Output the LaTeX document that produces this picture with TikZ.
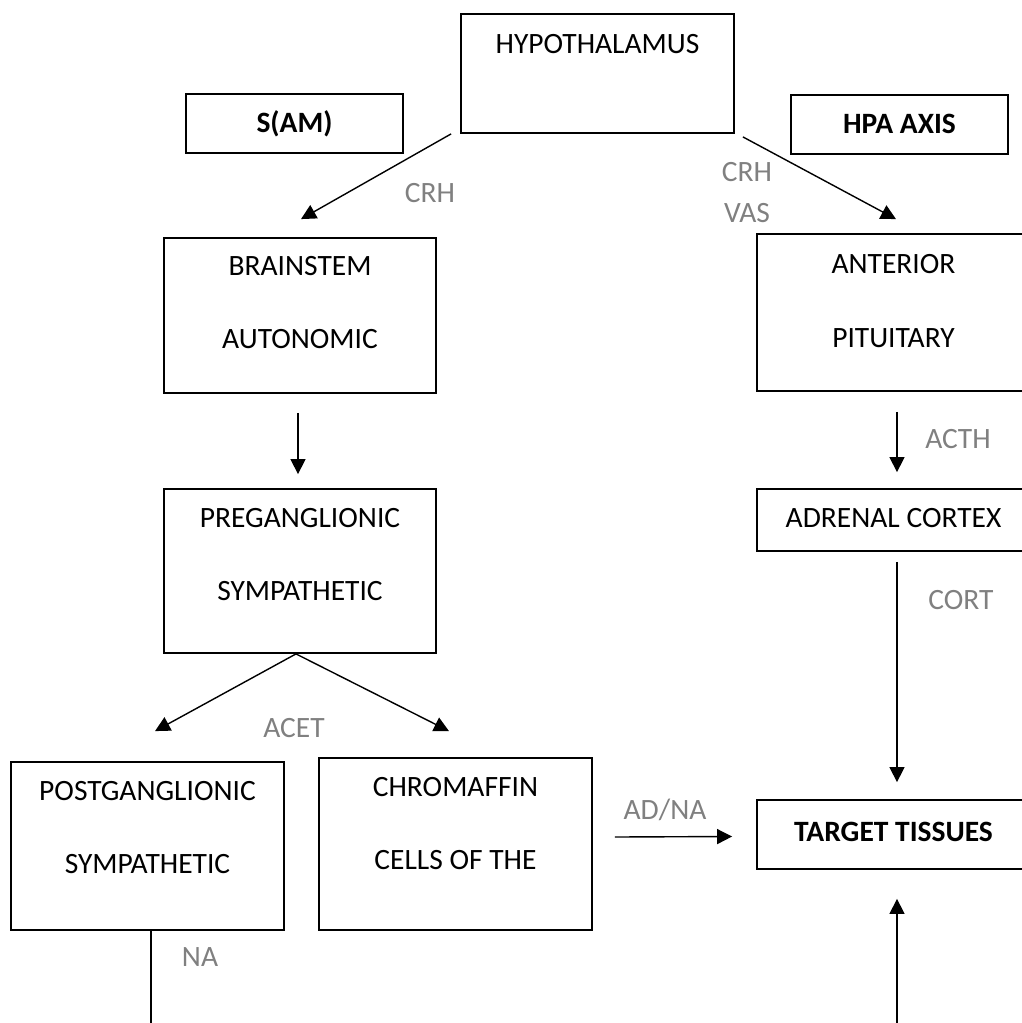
\documentclass[tikz,border=0pt]{standalone}
\usepackage{fontspec}
\setmainfont{Carlito}
\usetikzlibrary{arrows.meta}
\definecolor{labelgray}{RGB}{128,128,128}
\begin{document}
\begin{tikzpicture}[x=1pt,y=-1pt,
    box/.style={draw,line width=1.8pt,inner sep=0pt},
    txt/.style={inner sep=0pt,text height=19pt,text depth=0pt,font=\fontsize{29.5pt}{35pt}\selectfont},
    lbl/.style={txt,text=labelgray},
    arr/.style={line width=1.4pt,-{Triangle[length=15pt,width=15pt]}}]

       \useasboundingbox (0,0) rectangle (1021,1023);

       \node[box,minimum width=273pt,minimum height=119pt] (hypo) at (597.5,73.5) {};
       \node[box,minimum width=217pt,minimum height=59pt] (sam) at (294.5,123.5) {};
       \node[box,minimum width=217pt,minimum height=59pt] (hpa) at (899.5,124.5) {};
       \node[box,minimum width=272pt,minimum height=155pt] (brain) at (300,315.5) {};
       \node[box,minimum width=273pt,minimum height=157pt] (ant) at (893.5,312.5) {};
       \node[box,minimum width=272pt,minimum height=164pt] (pre) at (300,571) {};
       \node[box,minimum width=273pt,minimum height=62pt] (adr) at (893.5,520) {};
       \node[box,minimum width=273pt,minimum height=168pt] (post) at (147.5,846) {};
       \node[box,minimum width=273pt,minimum height=172pt] (chrom) at (455.5,844) {};
       \node[box,minimum width=273pt,minimum height=69pt] (target) at (893.5,834.5) {};

       \node[txt] (hypo-t) at (597.5,44) {HYPOTHALAMUS};
       \node[txt,font=\fontsize{29.5pt}{35pt}\selectfont\bfseries] (sam-t) at (294.5,123) {S(AM)};
       \node[txt,font=\fontsize{29.5pt}{35pt}\selectfont\bfseries] (hpa-t) at (899.5,124) {HPA AXIS};
       \node[txt] (brain-t1) at (300,266) {BRAINSTEM};
       \node[txt] (brain-t2) at (300,339) {AUTONOMIC};
       \node[txt] (ant-t1) at (893.5,264) {ANTERIOR};
       \node[txt] (ant-t2) at (893.5,338) {PITUITARY};
       \node[txt] (pre-t1) at (300,518) {PREGANGLIONIC};
       \node[txt] (pre-t2) at (300,591) {SYMPATHETIC};
       \node[txt] (adr-t) at (893.5,518) {ADRENAL CORTEX};
       \node[txt] (post-t1) at (147.5,791) {POSTGANGLIONIC};
       \node[txt] (post-t2) at (147.5,864) {SYMPATHETIC};
       \node[txt] (chrom-t1) at (455.5,787) {CHROMAFFIN};
       \node[txt] (chrom-t2) at (455.5,860) {CELLS OF THE};
       \node[txt,font=\fontsize{29.5pt}{35pt}\selectfont\bfseries] (target-t) at (893.5,832) {TARGET TISSUES};

       \node[lbl] (crh-l) at (430,193) {CRH};
       \node[lbl] (crh-r) at (747,172) {CRH};
       \node[lbl] (vas) at (747,213) {VAS};
       \node[lbl] (acth) at (958,439) {ACTH};
       \node[lbl] (cort) at (961,600) {CORT};
       \node[lbl] (acet) at (294,728) {ACET};
       \node[lbl] (adna) at (665,810) {AD/NA};
       \node[lbl] (na) at (200,957) {NA};

       \coordinate (na-out) at (151,1023);
       \coordinate (target-in) at (897,1023);

       \draw[arr] ([xshift=-9pt]hypo.south west) -- ([xshift=1pt,yshift=18pt]brain.north);
       \draw[arr] ([xshift=8pt,yshift=-3pt]hypo.south east) -- ([xshift=2.5pt,yshift=14pt]ant.north);
       \draw[arr] ([xshift=-2pt,yshift=-19pt]brain.south) -- ([xshift=-2pt,yshift=14pt]pre.north);
       \draw[arr] ([xshift=3.5pt,yshift=-20pt]ant.south) -- ([xshift=3.5pt,yshift=16pt]adr.north);
       \draw[arr] ([xshift=3.5pt,yshift=-10pt]adr.south) -- ([xshift=3.5pt,yshift=17pt]target.north);
       \draw[arr] ([xshift=-4pt]pre.south) -- ([xshift=7.5pt,yshift=30pt]post.north);
       \draw[arr] ([xshift=-4pt]pre.south) -- ([xshift=-6.5pt,yshift=26pt]chrom.north);
       \draw[arr] ([xshift=22pt,yshift=7pt]chrom.east) -- ([xshift=-24pt,yshift=-2pt]target.west);
       \draw[arr] (target-in) -- ([xshift=3.5pt,yshift=-29pt]target.south);
       \draw[line width=1.4pt] ([xshift=3.5pt]post.south) -- (na-out);
     \end{tikzpicture}
\end{document}
